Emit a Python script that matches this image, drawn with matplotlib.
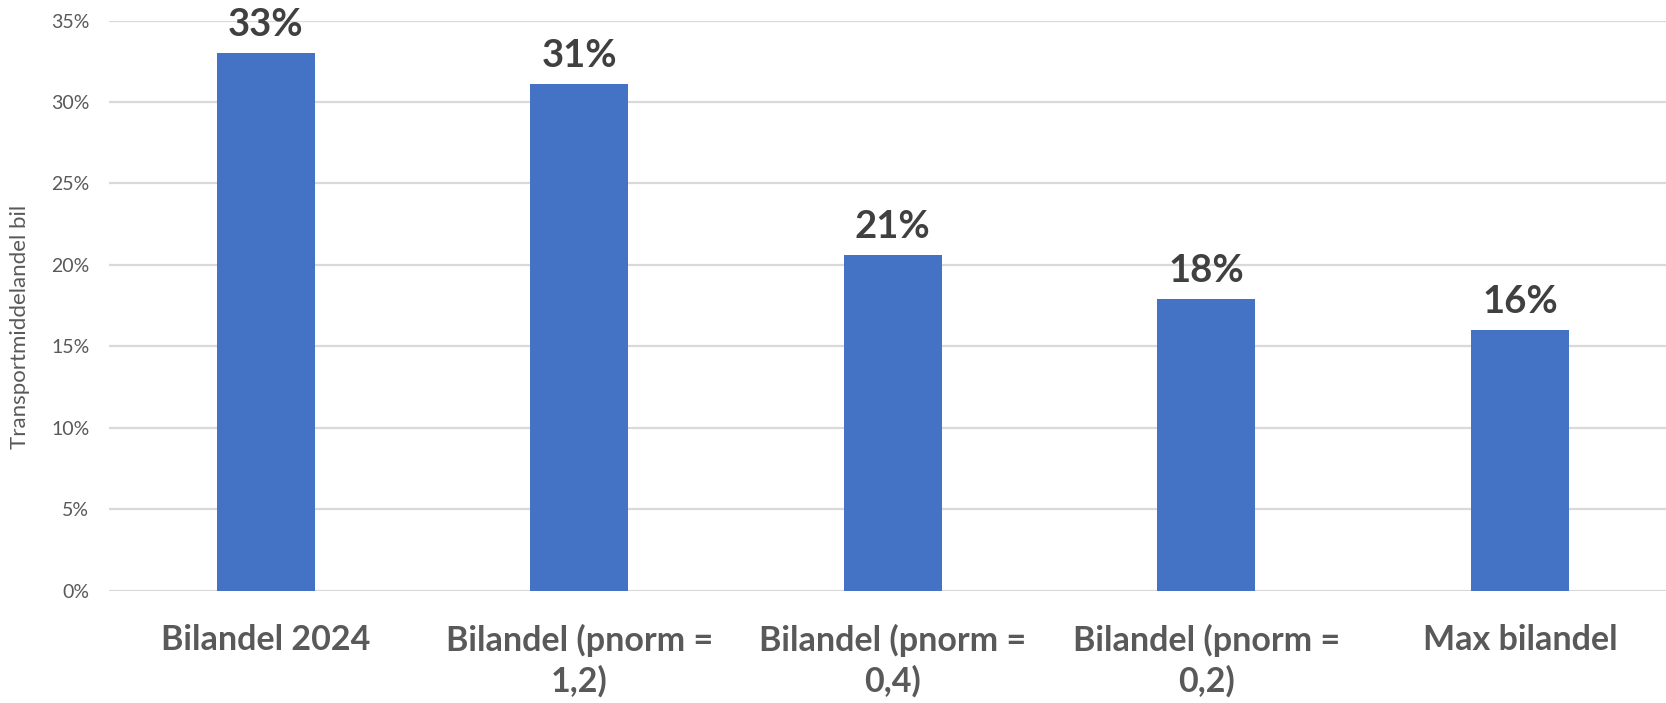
import matplotlib
matplotlib.use("Agg")
import matplotlib.pyplot as plt
from matplotlib.ticker import PercentFormatter, MultipleLocator

categories = ["Bilandel 2024", "Bilandel (pnorm =\n1,2)", "Bilandel (pnorm =\n0,4)",
              "Bilandel (pnorm =\n0,2)", "Max bilandel"]
shares = [0.330, 0.311, 0.206, 0.179, 0.160]
y_label = "Transportmiddelandel bil"

BAR = "#4472C4"
GRID = "#D9D9D9"
DARK = "#404040"
GREY = "#595959"

plt.rcParams["font.family"] = ["Lato", "DejaVu Sans"]

W, H, DPI = 1666, 703, 100
fig = plt.figure(figsize=(W / DPI, H / DPI), dpi=DPI)
left_px, right_px, top_px, bottom_px = 108.8, 1666, 20.5, 590.7
ax = fig.add_axes([left_px / W, 1 - bottom_px / H,
                   (right_px - left_px) / W, (bottom_px - top_px) / H])

x = list(range(len(categories)))
ax.bar(x, shares, width=0.312, color=BAR, zorder=3)

for xi, v in zip(x, shares):
    ax.annotate(f"{v:.0%}", (xi, v), xytext=(0, 12.5), textcoords="offset points",
                ha="center", va="baseline", fontsize=27.5, fontweight="bold",
                color=DARK, clip_on=False, annotation_clip=False)

ax.set_xlim(-0.5, (right_px - 265.6) / 313.6)
ax.set_ylim(0, 0.35)
ax.yaxis.set_major_locator(MultipleLocator(0.05))
ax.yaxis.set_major_formatter(PercentFormatter(1.0, decimals=0))
ax.grid(axis="y", color=GRID, linewidth=1.6, zorder=0)

ax.set_xticks(x)
ax.set_xticklabels(categories, fontsize=24.5, fontweight="bold", color=GREY,
                   linespacing=1.3)
ax.tick_params(axis="x", length=0, pad=24)
ax.tick_params(axis="y", length=0, pad=14, labelsize=14, labelcolor=GREY)

for s in ax.spines.values():
    s.set_visible(False)

ax.set_ylabel(y_label, fontsize=16, color=GREY)
ax.yaxis.set_label_coords(-0.0505, 0.462)

fig.savefig("out.png", dpi=DPI)
